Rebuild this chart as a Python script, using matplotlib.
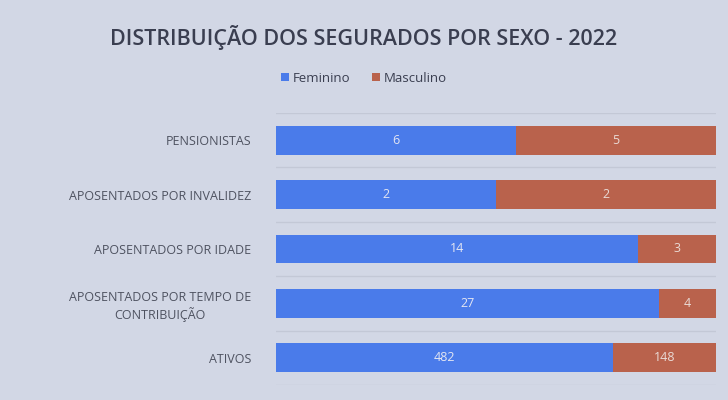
import numpy as np
import matplotlib.pyplot as plt

categorias = ["PENSIONISTAS", "APOSENTADOS POR INVALIDEZ", "APOSENTADOS POR IDADE",
              "APOSENTADOS POR TEMPO DE\nCONTRIBUIÇÃO", "ATIVOS"]
feminino = [6, 2, 14, 27, 482]
masculino = [5, 2, 3, 4, 148]

bg = "#d2d7e5"
azul = "#4a7bea"
verm = "#b9624c"

fem = np.array(feminino, dtype=float)
mas = np.array(masculino, dtype=float)
tot = fem + mas
pf = fem / tot
pm = mas / tot

fig = plt.figure(figsize=(7.28, 4.0), dpi=100, facecolor=bg)
ax = fig.add_axes([0.379, 0.0375, 0.6045, 0.68], facecolor=bg)

y = np.arange(len(categorias))
h = 0.53
b1 = ax.barh(y, pf, height=h, color=azul, label="Feminino")
b2 = ax.barh(y, pm, left=pf, height=h, color=verm, label="Masculino")

# rotulos dentro das barras
for i in range(len(y)):
    ax.text(pf[i] / 2, y[i], str(feminino[i]), ha="center", va="center",
            color="#e4e6f2", fontsize=9, family="Open Sans")
    ax.text(pf[i] + pm[i] / 2, y[i], str(masculino[i]), ha="center", va="center",
            color="#eadbd6", fontsize=9, family="Open Sans")

ax.set_xlim(0, 1)
ax.set_ylim(len(y) - 0.5, -0.5)
ax.set_yticks(y)
ax.set_yticklabels(categorias, fontsize=9, color="#4e5260", family="Open Sans",
                   linespacing=1.3)
for lbl in ax.get_yticklabels():
    lbl.set_multialignment("center")
ax.set_xticks([])
ax.tick_params(axis="y", length=0, pad=18)
ax.set_yticks(np.arange(-0.5, len(y), 1), minor=True)
ax.tick_params(axis="y", which="minor", length=0)
ax.grid(True, axis="y", which="minor", color="#c3c8d6", lw=1)
for s in ax.spines.values():
    s.set_visible(False)

fig.text(0.5, 0.905, "DISTRIBUIÇÃO DOS SEGURADOS POR SEXO - 2022", ha="center", va="center",
         fontsize=15.5, fontweight="semibold", color="#3a3e50", family="Open Sans")
fig.legend(handles=[b1, b2], loc="center", bbox_to_anchor=(0.5, 0.805), ncol=2,
           frameon=False, handlelength=0.6, handleheight=0.6,
           handletextpad=0.3, columnspacing=1.6, labelcolor="#3a3e50",
           prop={"family": "Open Sans", "size": 9.5})

fig.savefig("out.png", dpi=100, facecolor=bg)
